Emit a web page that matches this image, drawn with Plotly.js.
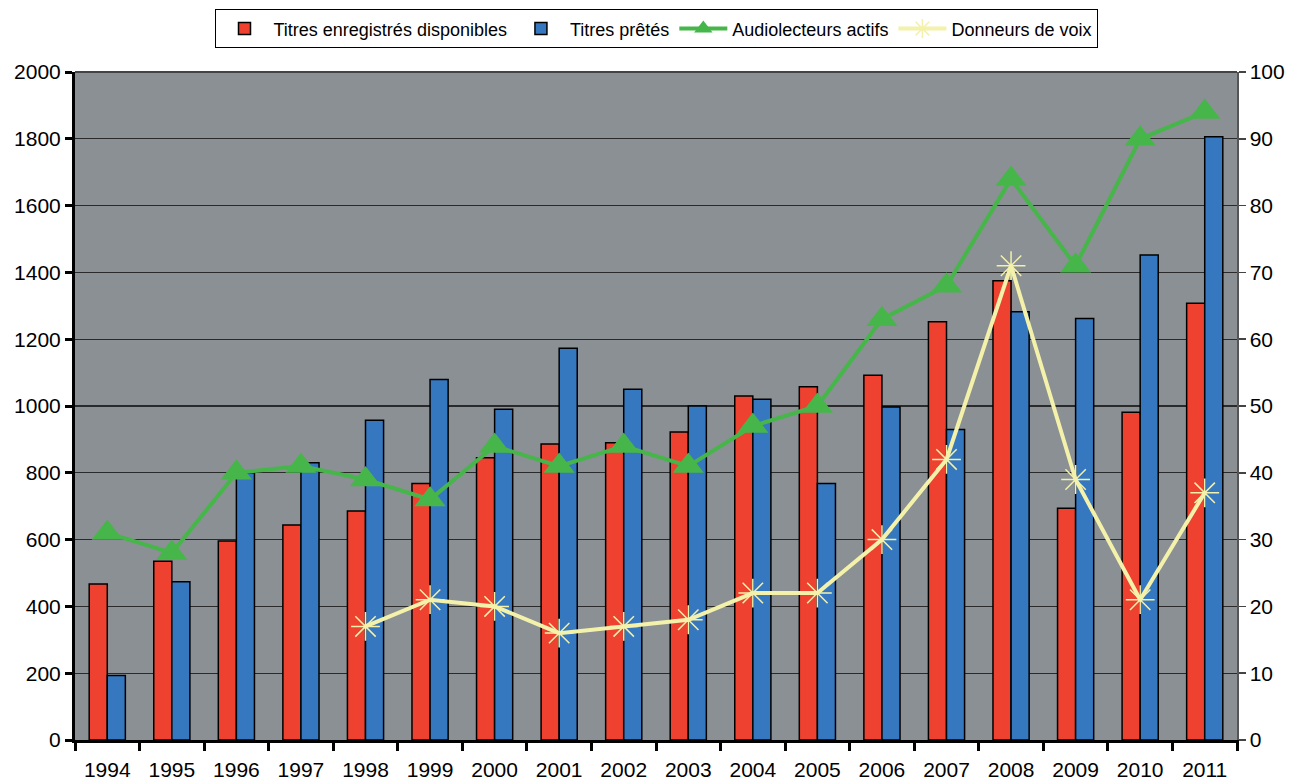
<!DOCTYPE html>
<html>
<head>
<meta charset="utf-8">
<script src="https://cdn.plot.ly/plotly-3.0.1.min.js"></script>
<style>html,body{margin:0;padding:0;background:#fff;}#chart{width:1291px;height:780px;}</style>
</head>
<body>
<div id="chart"></div>
<script>
const years = ["1994","1995","1996","1997","1998","1999","2000","2001","2002","2003","2004","2005","2006","2007","2008","2009","2010","2011"];
const titresDisponibles = [467,535,596,644,686,768,845,886,890,922,1030,1058,1092,1252,1375,694,981,1308];
const titresPretes = [193,474,800,830,957,1079,990,1173,1050,1000,1020,768,997,930,1282,1262,1452,1806];
const audiolecteurs = [31,28,40,41,39,36,44,41,44,41,47,50,63,68,84,71,90,94];
const donneurs = [null,null,null,null,17,21,20,16,17,18,22,22,30,42,71,39,21,37];
const leftTicks = [0,200,400,600,800,1000,1200,1400,1600,1800,2000];
const rightTicks = [0,10,20,30,40,50,60,70,80,90,100];

const font = "Liberation Sans, Arial, sans-serif";
const traces = [
  {type:"bar", name:"Titres enregistrés disponibles", x:years, y:titresDisponibles,
   marker:{color:"#EE4130", line:{color:"#000", width:1.5}}},
  {type:"bar", name:"Titres prêtés", x:years, y:titresPretes,
   marker:{color:"#3678C0", line:{color:"#000", width:1.5}}},
  {type:"scatter", mode:"lines+markers", name:"Audiolecteurs actifs", x:years, y:audiolecteurs, yaxis:"y2",
   line:{color:"#47B64A", width:4}, marker:{symbol:"triangle-up", size:27, color:"#47B64A"}},
  {type:"scatter", mode:"lines+markers", name:"Donneurs de voix", x:years, y:donneurs, yaxis:"y2",
   line:{color:"#F3F1AA", width:4}, marker:{symbol:"asterisk-open", size:24, color:"#F3F1AA", line:{color:"#F3F1AA", width:1.5}}}
];
const layout = {
  width:1291, height:780,
  margin:{l:75, r:54, t:72, b:40},
  paper_bgcolor:"#ffffff", plot_bgcolor:"#8A9093",
  barmode:"group", bargap:0.44, bargroupgap:0,
  font:{family:font, color:"#000", size:21},
  showlegend:true,
  legend:{orientation:"h", x:0.5, xanchor:"center", xref:"paper", yref:"container", y:0.988, yanchor:"top",
    bgcolor:"#fff", bordercolor:"#000", borderwidth:1, font:{size:18, family:font},
    itemwidth:48, tracegroupgap:0},
  xaxis:{type:"category", range:[-0.5, 17.5], autorange:false, tickson:"boundaries", ticks:"outside", ticklen:8, tickwidth:3, tickcolor:"#000",
    showline:true, linecolor:"#000", linewidth:3, showgrid:false, tickfont:{size:21}, ticklabelstandoff:9},
  yaxis:{range:[0,2000], tickvals:leftTicks, ticks:"outside", ticklen:7, tickwidth:3, tickcolor:"#000",
    showline:true, linecolor:"#000", linewidth:3, showgrid:true, gridcolor:"#2a2a2a", gridwidth:1.3,
    zeroline:false, tickfont:{size:21}, mirror:false},
  yaxis2:{range:[0,100], tickvals:rightTicks, overlaying:"y", side:"right", ticks:"outside", ticklen:7,
    tickwidth:1.5, tickcolor:"#444", showline:true, linecolor:"#555", linewidth:1.5, showgrid:false,
    zeroline:false, tickfont:{size:21}},
  shapes:[{type:"line", xref:"paper", yref:"paper", x0:0, x1:1, y0:1, y1:1, line:{color:"#444", width:2}}]
};
Plotly.newPlot("chart", traces, layout, {displayModeBar:false, staticPlot:true});
</script>
</body>
</html>
